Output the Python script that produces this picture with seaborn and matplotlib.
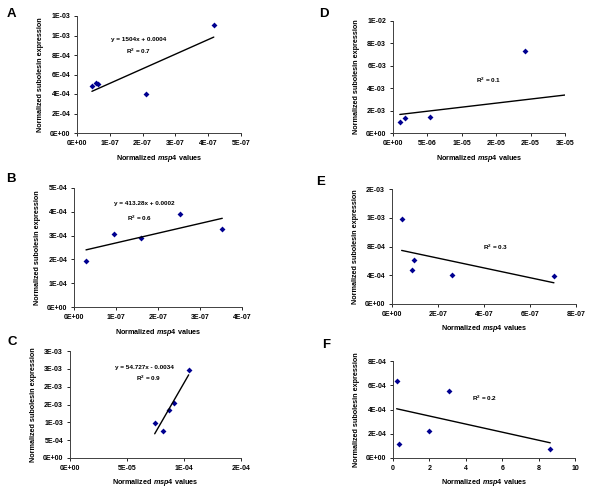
import numpy as np
import matplotlib
matplotlib.use("Agg")
import matplotlib.pyplot as plt
import seaborn as sns

# ---- data ----
a_x = [4.55e-8, 5.77e-8, 6.27e-8, 2.115e-7, 4.17e-7]
a_y = [4.77e-4, 5.11e-4, 4.98e-4, 3.95e-4, 1.105e-3]
b_x = [2.86e-8, 9.52e-8, 1.595e-7, 2.524e-7, 3.53e-7]
b_y = [1.94e-4, 3.05e-4, 2.90e-4, 3.90e-4, 3.26e-4]
c_x = [7.43e-5, 8.13e-5, 8.71e-5, 9.12e-5, 1.041e-4]
c_y = [9.76e-4, 7.60e-4, 1.332e-3, 1.548e-3, 2.467e-3]
d_x = [9.9e-7, 1.69e-6, 5.36e-6, 1.917e-5, 2.872e-5]
d_y = [9.5e-4, 1.37e-3, 1.43e-3, 7.29e-3, 9.2e-4]
e_x = [4.2e-8, 9.4e-8, 8.8e-8, 2.62e-7, 7.04e-7]
e_y = [1.188e-3, 6.15e-4, 4.72e-4, 4.02e-4, 3.84e-4]
f_x = [0.2, 0.31, 1.96, 3.08, 8.64]
f_y = [6.32e-4, 1.16e-4, 2.21e-4, 5.49e-4, 7.4e-5]

# tick values and the labels Excel printed for them
a_xticks = [0, 1e-7, 2e-7, 3e-7, 4e-7, 5e-7]
a_xlabels = ["0E+00", "1E-07", "2E-07", "3E-07", "4E-07", "5E-07"]
a_yticks = [0, 2e-4, 4e-4, 6e-4, 8e-4, 1e-3, 1.2e-3]
a_ylabels = ["0E+00", "2E-04", "4E-04", "6E-04", "8E-04", "1E-03", "1E-03"]

b_xticks = [0, 1e-7, 2e-7, 3e-7, 4e-7]
b_xlabels = ["0E+00", "1E-07", "2E-07", "3E-07", "4E-07"]
b_yticks = [0, 1e-4, 2e-4, 3e-4, 4e-4, 5e-4]
b_ylabels = ["0E+00", "1E-04", "2E-04", "3E-04", "4E-04", "5E-04"]

c_xticks = [0, 5e-5, 1e-4, 1.5e-4]
c_xlabels = ["0E+00", "5E-05", "1E-04", "2E-04"]
c_yticks = [0, 5e-4, 1e-3, 1.5e-3, 2e-3, 2.5e-3, 3e-3]
c_ylabels = ["0E+00", "5E-04", "1E-03", "2E-03", "2E-03", "3E-03", "3E-03"]

d_xticks = [0, 5e-6, 1e-5, 1.5e-5, 2e-5, 2.5e-5]
d_xlabels = ["0E+00", "5E-06", "1E-05", "2E-05", "2E-05", "3E-05"]
d_yticks = [0, 2e-3, 4e-3, 6e-3, 8e-3, 1e-2]
d_ylabels = ["0E+00", "2E-03", "4E-03", "6E-03", "8E-03", "1E-02"]

e_xticks = [0, 2e-7, 4e-7, 6e-7, 8e-7]
e_xlabels = ["0E+00", "2E-07", "4E-07", "6E-07", "8E-07"]
e_yticks = [0, 4e-4, 8e-4, 1.2e-3, 1.6e-3]
e_ylabels = ["0E+00", "4E-04", "8E-04", "1E-03", "2E-03"]

f_xticks = [0, 2, 4, 6, 8, 10]
f_xlabels = ["0", "2", "4", "6", "8", "10"]
f_yticks = [0, 2e-4, 4e-4, 6e-4, 8e-4]
f_ylabels = ["0E+00", "2E-04", "4E-04", "6E-04", "8E-04"]

a_eq = ["y = 1504x + 0.0004", "R$^2$ = 0.7"]
b_eq = ["y = 413.28x + 0.0002", "R$^2$ = 0.6"]
c_eq = ["y = 54.727x - 0.0034", "R$^2$ = 0.9"]
d_eq = ["R$^2$ = 0.1"]
e_eq = ["R$^2$ = 0.3"]
f_eq = ["R$^2$ = 0.2"]

sns.set_style("ticks")
plt.rcParams["font.family"] = ["Liberation Sans", "DejaVu Sans"]
plt.rcParams["font.weight"] = "bold"
plt.rcParams["text.color"] = "black"
plt.rcParams["axes.labelcolor"] = "black"
plt.rcParams["mathtext.fontset"] = "custom"
plt.rcParams["mathtext.rm"] = "Liberation Sans:bold"
plt.rcParams["mathtext.it"] = "Liberation Sans:italic:bold"
plt.rcParams["mathtext.bf"] = "Liberation Sans:bold"
plt.rcParams["mathtext.default"] = "rm"

W, H = 600, 492
fig = plt.figure(figsize=(W / 100, H / 100), dpi=100)
fig.patch.set_facecolor("white")

# (letter, x, y, xt, xl, yt, yl, equation lines, box px (l, t, r, b), letter px, text px)
panels = [
    ("A", a_x, a_y, a_xticks, a_xlabels, a_yticks, a_ylabels, a_eq,
     (77, 16, 241, 133), (11, 14), [(139, 40), (139, 51)]),
    ("B", b_x, b_y, b_xticks, b_xlabels, b_yticks, b_ylabels, b_eq,
     (74, 188, 242, 307), (11, 179), [(144, 204), (140, 218)]),
    ("C", c_x, c_y, c_xticks, c_xlabels, c_yticks, c_ylabels, c_eq,
     (70, 351, 241, 458), (12, 342), [(144, 367), (149, 378)]),
    ("D", d_x, d_y, d_xticks, d_xlabels, d_yticks, d_ylabels, d_eq,
     (393, 21, 565, 133), (324, 14), [(489, 80)]),
    ("E", e_x, e_y, e_xticks, e_xlabels, e_yticks, e_ylabels, e_eq,
     (392, 189, 576, 304), (321, 182), [(496, 247)]),
    ("F", f_x, f_y, f_xticks, f_xlabels, f_yticks, f_ylabels, f_eq,
     (393, 361, 575, 458), (326, 345), [(485, 398)]),
]

for letter, xs, ys, xt, xl, yt, yl, eq, box, lpos, tpos in panels:
    l, t, r, b = box
    ax = fig.add_axes([l / W, 1 - b / H, (r - l) / W, (b - t) / H])
    sns.regplot(x=np.array(xs), y=np.array(ys), ax=ax, ci=None, truncate=True,
                marker="D",
                scatter_kws={"s": 9, "color": "#000090", "linewidths": 0,
                             "alpha": 1},
                line_kws={"color": "black", "linewidth": 1.0})
    ax.set_xlim(xt[0], xt[-1])
    ax.set_ylim(yt[0], yt[-1])
    ax.set_xticks(xt)
    ax.set_xticklabels(xl)
    ax.set_yticks(yt)
    ax.set_yticklabels(yl)
    ax.tick_params(labelsize=5, length=2.5, width=0.6, pad=2.5,
                   colors="black", labelcolor="black")
    for lab in ax.get_xticklabels() + ax.get_yticklabels():
        lab.set_fontweight("bold")
    sns.despine(ax=ax)
    for sp in ("left", "bottom"):
        ax.spines[sp].set_linewidth(0.7)
        ax.spines[sp].set_color("#404040")
    ax.set_xlabel("Normalized $\\mathit{msp4}$ values", fontsize=5.2,
                  fontweight="bold", labelpad=4)
    ax.set_ylabel("Normalized subolesin expression", fontsize=5.2,
                  fontweight="bold", labelpad=4)
    for line, (px, py) in zip(eq, tpos):
        fig.text(px / W, 1 - py / H, line, fontsize=4.6, fontweight="bold",
                 ha="center", va="center")
    fig.text(lpos[0] / W, 1 - lpos[1] / H, letter, fontsize=9.5,
             fontweight="bold", ha="center", va="center")

fig.savefig("out.png", dpi=100, facecolor="white")
